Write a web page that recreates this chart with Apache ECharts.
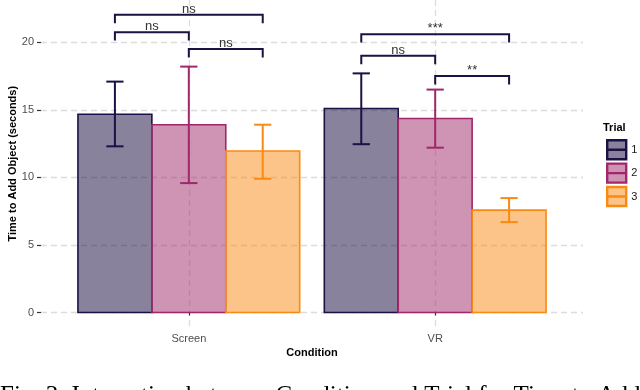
<!doctype html>
<html lang="en">
<head>
	<meta charset="utf-8" />
	<title>Time to Add Object</title>
	<script src="https://cdn.jsdelivr.net/npm/echarts@6/dist/echarts.min.js"></script>
	<style>
		html, body { margin: 0; padding: 0; background: #fff; }
		#main { width: 640px; height: 390px; }
	</style>
</head>
<body>
	<div id="main"></div>
	<script>
		// data
		var conditions = ['Screen', 'VR'];
		var trials = ['1', '2', '3'];
		// one row per trial, one value per condition
		var means = [[14.68, 15.10], [13.90, 14.36], [11.95, 7.58]];
		var lower = [[12.30, 12.46], [9.58, 12.20], [9.90, 6.69]];
		var upper = [[17.09, 17.70], [18.20, 16.50], [13.90, 8.47]];
		// condition, trial a, trial b, bracket height, label
		var brackets = [
			['Screen', 1, 2, 20.75, 'ns'],
			['Screen', 1, 3, 22.03, 'ns'],
			['Screen', 2, 3, 19.50, 'ns'],
			['VR', 1, 3, 20.60, '***'],
			['VR', 1, 2, 19.00, 'ns'],
			['VR', 2, 3, 17.50, '**']
		];
		var yTicks = [0, 5, 10, 15, 20];

		var strokes = ['#1c1044', '#a0286a', '#f98a12'];
		var fills = ['rgba(28,16,68,0.52)', 'rgba(160,40,106,0.5)', 'rgba(249,138,18,0.5)'];
		var BAR_W = 0.3, CAP_W = 0.07, TIP = 0.62;

		var myChart = echarts.init(document.getElementById('main'));

		function barSeries(t) {
			return {
				type: 'custom',
				name: trials[t],
				itemStyle: { color: fills[t], borderColor: strokes[t], borderWidth: 2 },
				data: conditions.map(function (c, i) {
					return [i + 1, means[t][i], lower[t][i], upper[t][i]];
				}),
				encode: { x: 0, y: [1, 2, 3] },
				renderItem: function (params, api) {
					var cx = api.value(0) + (t - 1) * BAR_W;
					var a = api.coord([cx - BAR_W / 2, 0]);
					var b = api.coord([cx + BAR_W / 2, api.value(1)]);
					var lo = api.coord([cx, api.value(2)]);
					var hi = api.coord([cx, api.value(3)]);
					var cl = api.coord([cx - CAP_W / 2, 0])[0];
					var cr = api.coord([cx + CAP_W / 2, 0])[0];
					var ls = { stroke: strokes[t], lineWidth: 2 };
					return {
						type: 'group',
						children: [
							{ type: 'rect', shape: { x: a[0], y: b[1], width: b[0] - a[0], height: a[1] - b[1] },
								style: { fill: fills[t], stroke: strokes[t], lineWidth: 1.6 } },
							{ type: 'line', shape: { x1: lo[0], y1: lo[1], x2: hi[0], y2: hi[1] }, style: ls },
							{ type: 'line', shape: { x1: cl, y1: lo[1], x2: cr, y2: lo[1] }, style: ls },
							{ type: 'line', shape: { x1: cl, y1: hi[1], x2: cr, y2: hi[1] }, style: ls }
						]
					};
				}
			};
		}

		var series = trials.map(function (tr, t) { return barSeries(t); });

		series.push({
			type: 'custom',
			name: 'signif',
			silent: true,
			data: brackets.map(function (r) {
				return { value: [conditions.indexOf(r[0]) + 1, r[1], r[2], r[3]], name: r[4] };
			}),
			encode: { x: 0, y: 3 },
			renderItem: function (params, api) {
				var c = api.value(0);
				var xa = c + (api.value(1) - 2) * BAR_W;
				var xb = c + (api.value(2) - 2) * BAR_W;
				var h = api.value(3);
				var p1 = api.coord([xa, h - TIP]);
				var p2 = api.coord([xa, h]);
				var p3 = api.coord([xb, h]);
				var p4 = api.coord([xb, h - TIP]);
				var label = brackets[params.dataIndex][4];
				return {
					type: 'group',
					children: [
						{ type: 'polyline', shape: { points: [p1, p2, p3, p4] },
							style: { stroke: '#1c1044', lineWidth: 2, fill: null } },
						{ type: 'text', x: (p2[0] + p3[0]) / 2, y: p2[1] + 1,
							style: { text: label, align: 'center', verticalAlign: 'bottom',
								fontFamily: 'Liberation Sans', fontSize: 13, fill: '#333' } }
					]
				};
			}
		});

		var gridLine = { show: true, lineStyle: { color: '#dcdcdc', width: 1.3, type: [6, 4] } };

		var option = {
			animation: false,
			textStyle: { fontFamily: 'Liberation Sans' },
			grid: { left: 41, right: 57, top: 0, bottom: 62.6, outerBoundsMode: 'none', containLabel: false },
			xAxis: {
				type: 'value',
				min: 0.4,
				max: 2.6,
				name: 'Condition',
				nameLocation: 'middle',
				nameGap: 20,
				nameMoveOverlap: false,
				nameTextStyle: { fontWeight: 'bold', fontSize: 11, color: '#000' },
				axisLine: { show: false },
				axisTick: { show: true, length: 3, customValues: [1, 2], lineStyle: { color: '#333', width: 1.2 } },
				axisLabel: {
					customValues: [1, 2], color: '#4d4d4d', fontSize: 11, margin: 6,
					formatter: function (v) { return conditions[Math.round(v) - 1] || ''; }
				},
				splitLine: gridLine
			},
			yAxis: {
				type: 'value',
				min: -1.1,
				max: 23.13,
				name: 'Time to Add Object (seconds)',
				nameLocation: 'middle',
				nameGap: 23,
				nameMoveOverlap: false,
				nameTextStyle: { fontWeight: 'bold', fontSize: 11, color: '#000' },
				axisLine: { show: false },
				axisTick: { show: true, length: 4, customValues: yTicks, lineStyle: { color: '#333', width: 1.2 } },
				axisLabel: { customValues: yTicks, color: '#4d4d4d', fontSize: 11, margin: 7 },
				splitLine: gridLine
			},
			legend: {
				data: trials.map(function (tr, t) {
					return { name: tr, icon: 'path://M0 0H20V20H0Z M0 10H20',
						itemStyle: { color: fills[t], borderColor: strokes[t], borderWidth: 2.4 } };
				}),
				orient: 'vertical',
				left: 606,
				top: 139,
				padding: 0,
				itemWidth: 19,
				itemHeight: 20,
				itemGap: 2,
				selectedMode: false,
				textStyle: { fontSize: 11, color: '#1a1a1a' }
			},
			title: {
				text: 'Trial',
				left: 603,
				top: 122,
				padding: 0,
				textStyle: { fontSize: 11, fontWeight: 'bold', color: '#000' }
			},
			graphic: [{
				type: 'text',
				left: 0,
				top: 384,
				style: {
					text: 'Fig. 3: Interaction between Condition and Trial for Time to Add',
					fontFamily: 'Liberation Serif',
					fontSize: 25,
					fill: '#000'
				}
			}],
			series: series
		};
		myChart.setOption(option);
	</script>
</body>
</html>
